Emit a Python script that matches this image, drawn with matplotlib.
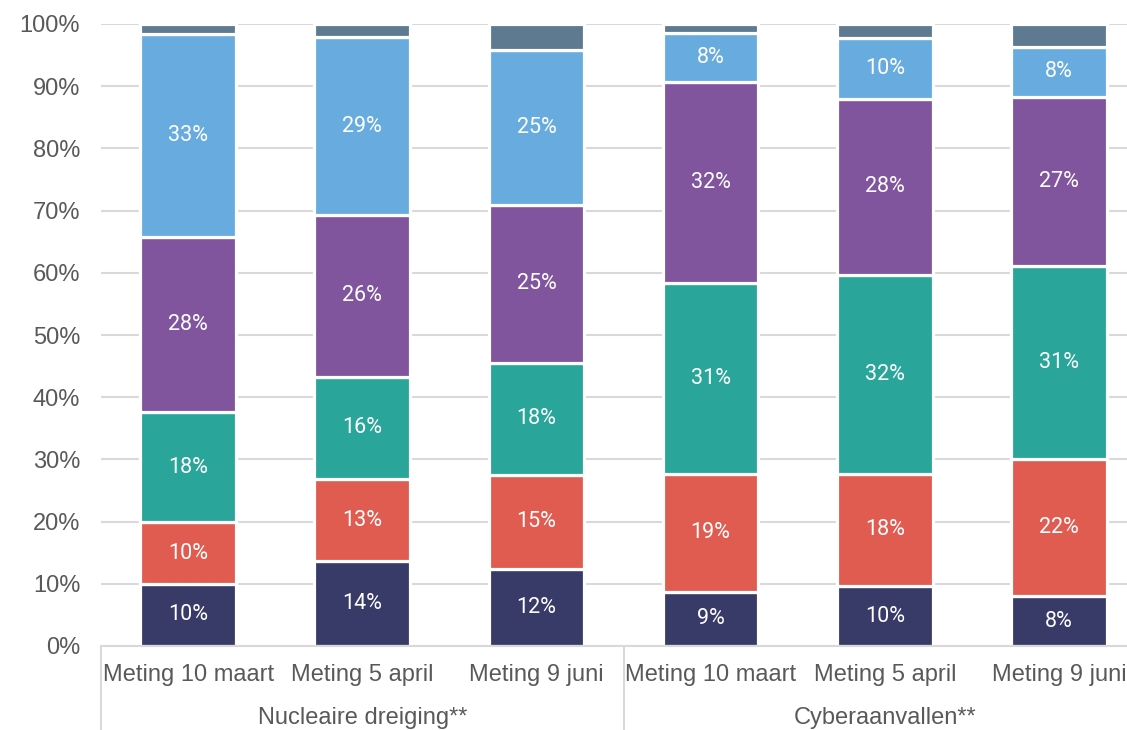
import matplotlib
matplotlib.use("Agg")
import matplotlib.pyplot as plt
import matplotlib.transforms as mtransforms

categories = ["Meting 10 maart", "Meting 5 april", "Meting 9 juni",
              "Meting 10 maart", "Meting 5 april", "Meting 9 juni"]
groups = ["Nucleaire dreiging**", "Cyberaanvallen**"]

navy = [10.0, 13.6, 12.4, 8.7, 9.6, 8.0]
red = [9.9, 13.3, 15.1, 19.0, 18.1, 22.1]
teal = [17.7, 16.4, 18.0, 30.6, 31.9, 31.0]
purple = [28.2, 26.0, 25.4, 32.4, 28.4, 27.2]
lightblue = [32.6, 28.6, 24.9, 7.9, 9.8, 8.0]
grey = [1.6, 2.1, 4.2, 1.4, 2.2, 3.7]

series = [navy, red, teal, purple, lightblue, grey]
colors = ["#383A68", "#E05C50", "#2AA59A", "#80559D", "#68ACDF", "#5E7A90"]
show_label = [True, True, True, True, True, False]

yticks = [0, 10, 20, 30, 40, 50, 60, 70, 80, 90, 100]

W, H = 1127, 730
fig = plt.figure(figsize=(W / 100, H / 100), dpi=100)
ax = fig.add_axes([101 / W, (730 - 646) / H, 1045 / W, 622 / H])

x = list(range(len(categories)))
bottom = [0.0] * len(x)
for vals, col, lab in zip(series, colors, show_label):
    ax.bar(x, vals, bottom=bottom, width=0.55, color=col,
           edgecolor="white", linewidth=2.3, zorder=3)
    if lab:
        for xi, b, v in zip(x, bottom, vals):
            ax.text(xi, b + v / 2, f"{v:.0f}%", ha="center", va="center",
                    color="white", fontsize=15.5, fontweight="normal",
                    family=["Roboto", "DejaVu Sans"], zorder=4)
    bottom = [b + v for b, v in zip(bottom, vals)]

ax.set_xlim(-0.5, 5.5)
ax.set_ylim(0, 100)
ax.set_yticks(yticks)
ax.set_yticklabels([f"{t}%" for t in yticks])
ax.yaxis.grid(True, color="#D9D9D9", linewidth=1.5, zorder=0)
ax.set_axisbelow(True)
for s in ["top", "right", "left"]:
    ax.spines[s].set_visible(False)
ax.spines["bottom"].set_color("#D9D9D9")
ax.spines["bottom"].set_linewidth(1.5)
ax.spines["bottom"].set_zorder(5)

ax.set_xticks(x)
ax.set_xticklabels(categories)
ax.tick_params(axis="both", length=0, labelsize=17, labelcolor="#595959")
ax.tick_params(axis="x", pad=13)
ax.tick_params(axis="y", pad=15)
for lbl in ax.get_xticklabels() + ax.get_yticklabels():
    lbl.set_family(["Liberation Sans", "DejaVu Sans"])

trans = mtransforms.blended_transform_factory(ax.transData, ax.transAxes)
for xs in [-0.5, 2.5, 5.5]:
    ax.plot([xs, xs], [0, -0.14], transform=trans, color="#D9D9D9",
            linewidth=1.5, clip_on=False)
for gi, g in enumerate(groups):
    ax.text(1 + 3 * gi, -0.115, g, transform=trans, ha="center", va="center",
            fontsize=17, color="#595959", family=["Liberation Sans", "DejaVu Sans"])

fig.savefig("out.png", dpi=100)
